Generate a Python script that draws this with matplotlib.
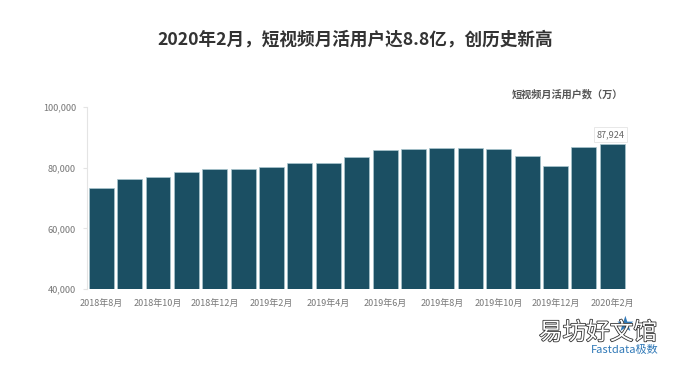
# %% imports
import matplotlib
matplotlib.use("Agg")
import matplotlib.pyplot as plt
import matplotlib.patheffects as pe

plt.rcParams["font.family"] = ["Noto Sans CJK SC", "DejaVu Sans"]

W, H = 685, 365
# %% data
months = ["2018年8月", "2018年9月", "2018年10月", "2018年11月", "2018年12月", "2019年1月", "2019年2月",
          "2019年3月", "2019年4月", "2019年5月", "2019年6月", "2019年7月", "2019年8月", "2019年9月",
          "2019年10月", "2019年11月", "2019年12月", "2020年1月", "2020年2月"]
users = [73300, 76200, 77000, 78600, 79500, 79600, 80200, 81600, 81700, 83500,
         85700, 86100, 86400, 86600, 86000, 83700, 80700, 86800, 87924]
y_ticks = [40000, 60000, 80000, 100000]

# %% figure
fig = plt.figure(figsize=(W / 100, H / 100), dpi=100, facecolor="white")
ax = fig.add_axes([87 / W, 1 - 289 / H, 541 / W, 182 / H])
ax.bar(range(len(users)), users, width=0.88, color="#1b4f63", edgecolor="#a9c6cf", linewidth=0.5)
ax.set_xlim(-0.50, 18.55)
ax.set_ylim(40000, 100000)
ax.set_yticks(y_ticks, [f"{v:,}" for v in y_ticks])
ax.set_xticks(range(0, len(months), 2), months[::2])
ax.tick_params(axis="y", length=3, color="#e4e4e4", labelsize=6.6, labelcolor="#777777", pad=5)
ax.tick_params(axis="x", length=0, labelsize=6.5, labelcolor="#777777", pad=7.5)
for s in ("top", "right", "bottom"):
    ax.spines[s].set_visible(False)
ax.spines["left"].set_color("#e4e4e4")

# title + series label
fig.text(355 / W, 1 - 39 / H, "2020年2月，短视频月活用户达8.8亿，创历史新高", ha="center", va="center",
         fontsize=12.7, fontweight="bold", color="#333333")
fig.text(567 / W, 1 - 94 / H, "短视频月活用户数（万）", ha="center", va="center",
         fontsize=7.3, fontweight="bold", color="#555555")

# callout on the last bar
ax.annotate(f"{users[-1]:,}", (18, users[-1]), xytext=(-1.5, 6.5), textcoords="offset points", ha="center", va="center",
            fontsize=6.6, color="#666666",
            bbox=dict(boxstyle="square,pad=0.3", fc="white", ec="#e8e8e8", lw=0.7))

# logo + watermark
fig.text(625 / W, 1 - 350 / H, "Fastdata极数", ha="center", va="center", fontsize=8, color="#2f78b7")
fig.text(625 / W, 1 - 325 / H, "★", ha="center", va="center", fontsize=15, color="#2f78b7",
         family=["DejaVu Sans"])
fig.text(598 / W, 1 - 333 / H, "易坊好文馆", ha="center", va="center", fontsize=17, color="white",
         path_effects=[pe.withStroke(linewidth=1.2, foreground="#333333")])

fig.savefig("out.png", dpi=100)
